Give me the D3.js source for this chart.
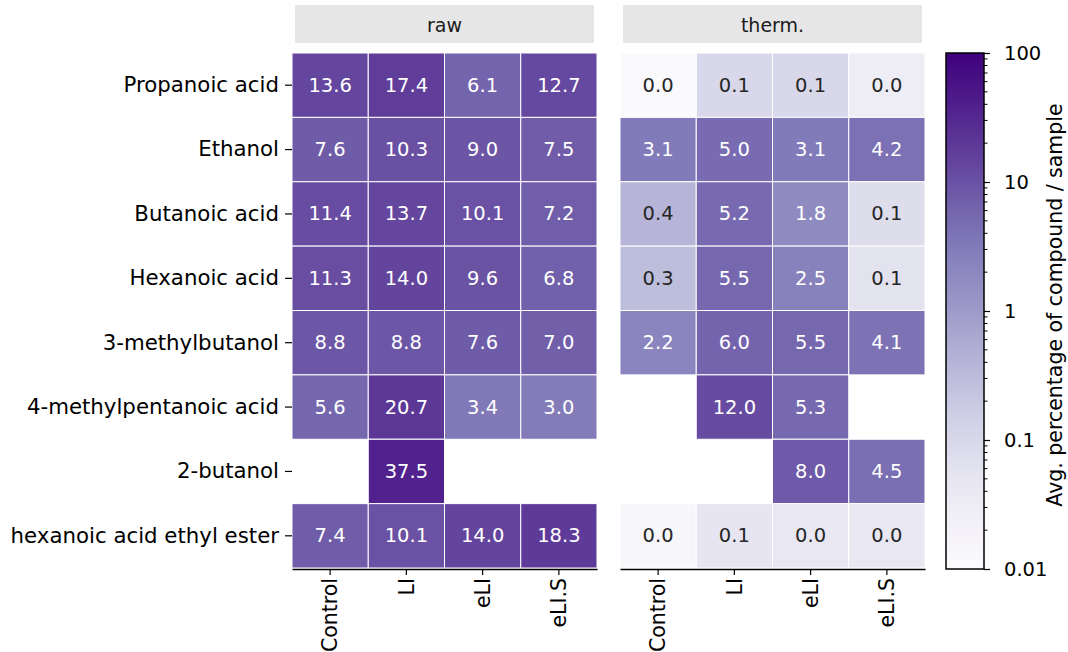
<!DOCTYPE html>
<html>
<head>
<meta charset="utf-8">
<script src="https://cdn.jsdelivr.net/npm/d3@7"></script>
<style>
  body { margin: 0; background: #fff; }
  svg { font-family: "DejaVu Sans", sans-serif; }
</style>
</head>
<body>
<svg id="chart" width="1068" height="652"></svg>
<script>
// compounds (rows) and samples (columns)
var compounds = ["Propanoic acid", "Ethanol", "Butanoic acid", "Hexanoic acid",
                 "3-methylbutanol", "4-methylpentanoic acid", "2-butanol", "hexanoic acid ethyl ester"];
var samples = ["Control", "LI", "eLI", "eLI.S"];
var panels = ["raw", "therm."];

// avg. percentage of compound / sample, null = missing
var rawValues = [
  [13.6, 17.4, 6.1, 12.7],
  [7.6, 10.3, 9.0, 7.5],
  [11.4, 13.7, 10.1, 7.2],
  [11.3, 14.0, 9.6, 6.8],
  [8.8, 8.8, 7.6, 7.0],
  [5.6, 20.7, 3.4, 3.0],
  [null, 37.5, null, null],
  [7.4, 10.1, 14.0, 18.3]
];
var thermValues = [
  [0.012, 0.1, 0.1, 0.03],
  [3.1, 5.0, 3.1, 4.2],
  [0.4, 5.2, 1.8, 0.08],
  [0.3, 5.5, 2.5, 0.06],
  [2.2, 6.0, 5.5, 4.1],
  [null, 12.0, 5.3, null],
  [null, null, 8.0, 4.5],
  [0.015, 0.052, 0.046, 0.046]
];
var cbarTicks = [100, 10, 1, 0.1, 0.01];

var svg = d3.select("#chart"),
    plotTop = 53, plotBottom = 568,
    panelX = [292, 620], panelW = 305;

var color = d3.scaleSequentialLog(d3.interpolatePurples).domain([0.01, 100]).clamp(true);
var y = d3.scaleBand().domain(compounds).range([plotTop, plotBottom]);

function textColor(c) {
  var rgb = d3.rgb(c);
  var lum = [rgb.r, rgb.g, rgb.b].map(function(v) {
    v = v / 255;
    return v <= 0.03928 ? v / 12.92 : Math.pow((v + 0.055) / 1.055, 2.4);
  });
  var l = 0.2126 * lum[0] + 0.7152 * lum[1] + 0.0722 * lum[2];
  return l > 0.408 ? "#262626" : "#ffffff";
}

[rawValues, thermValues].forEach(function(values, p) {
  var x = d3.scaleBand().domain(samples).range([panelX[p], panelX[p] + panelW]);

  // strip header
  svg.append("rect")
      .attr("x", panelX[p] + 3).attr("y", 5)
      .attr("width", panelW - 6).attr("height", 38)
      .attr("fill", "#e6e6e6");
  svg.append("text")
      .attr("x", panelX[p] + panelW / 2).attr("y", 25)
      .attr("text-anchor", "middle").attr("dominant-baseline", "central")
      .attr("font-size", 19).attr("fill", "#1a1a1a")
      .text(panels[p]);

  var cells = [];
  values.forEach(function(row, i) {
    row.forEach(function(v, j) {
      if (v !== null) cells.push({r: compounds[i], c: samples[j], v: v});
    });
  });

  var g = svg.append("g");
  g.selectAll("rect")
      .data(cells)
    .enter().append("rect")
      .attr("x", function(d) { return x(d.c); })
      .attr("y", function(d) { return y(d.r); })
      .attr("width", x.bandwidth())
      .attr("height", y.bandwidth())
      .attr("fill", function(d) { return color(d.v); })
      .attr("stroke", "#ffffff")
      .attr("stroke-width", 1);

  g.selectAll("text")
      .data(cells)
    .enter().append("text")
      .attr("x", function(d) { return x(d.c) + x.bandwidth() / 2; })
      .attr("y", function(d) { return y(d.r) + y.bandwidth() / 2; })
      .attr("text-anchor", "middle").attr("dominant-baseline", "central")
      .attr("font-size", 19.5)
      .attr("fill", function(d) { return textColor(color(d.v)); })
      .text(function(d) { return d.v.toFixed(1); });

  // bottom axis
  var ax = svg.append("g")
      .attr("transform", "translate(0," + (plotBottom + 1) + ")")
      .call(d3.axisBottom(x).tickSizeInner(6).tickSizeOuter(0).tickPadding(8));
  ax.select(".domain").attr("stroke", "#000").attr("stroke-width", 1.5);
  ax.selectAll(".tick line").attr("stroke", "#000").attr("stroke-width", 1.2);
  ax.selectAll(".tick text")
      .attr("font-size", 20.5).attr("fill", "#000")
      .attr("font-family", "DejaVu Sans, sans-serif")
      .attr("transform", "rotate(-90)")
      .attr("text-anchor", "end")
      .attr("dy", "0.35em")
      .attr("x", -9).attr("y", 0);

  // y axis on the first panel only
  if (p === 0) {
    var ay = svg.append("g")
        .attr("transform", "translate(" + panelX[0] + ",0)")
        .call(d3.axisLeft(y).tickSizeInner(7).tickSizeOuter(0).tickPadding(6));
    ay.select(".domain").remove();
    ay.selectAll(".tick line").attr("stroke", "#000").attr("stroke-width", 1.2);
    ay.selectAll(".tick text")
        .attr("font-size", 21.3).attr("fill", "#000")
        .attr("font-family", "DejaVu Sans, sans-serif");
  }
});

// colorbar
var cbX = 946, cbW = 38;
var cy = d3.scaleLog().domain([0.01, 100]).range([569, 53]);

var grad = svg.append("defs").append("linearGradient")
    .attr("id", "cbar").attr("x1", 0).attr("y1", 1).attr("x2", 0).attr("y2", 0);
d3.range(0, 1.0001, 0.05).forEach(function(t) {
  grad.append("stop")
      .attr("offset", t)
      .attr("stop-color", d3.interpolatePurples(t));
});
svg.append("rect")
    .attr("x", cbX).attr("y", 53)
    .attr("width", cbW).attr("height", 516)
    .attr("fill", "url(#cbar)")
    .attr("stroke", "#000").attr("stroke-width", 1.5);

var minor = [];
[0.01, 0.1, 1, 10].forEach(function(dec) {
  d3.range(2, 10).forEach(function(k) { minor.push(dec * k); });
});
svg.append("g").selectAll("line")
    .data(minor)
  .enter().append("line")
    .attr("x1", cbX + cbW).attr("x2", cbX + cbW + 3.5)
    .attr("y1", function(d) { return cy(d); })
    .attr("y2", function(d) { return cy(d); })
    .attr("stroke", "#000").attr("stroke-width", 1);

var ac = svg.append("g")
    .attr("transform", "translate(" + (cbX + cbW) + ",0)")
    .call(d3.axisRight(cy).tickValues(cbarTicks).tickFormat(d3.format("~g"))
      .tickSizeInner(6).tickSizeOuter(0).tickPadding(14));
ac.select(".domain").remove();
ac.selectAll(".tick line").attr("stroke", "#000").attr("stroke-width", 1.2);
ac.selectAll(".tick text")
    .attr("font-size", 19.5).attr("fill", "#000")
    .attr("font-family", "DejaVu Sans, sans-serif");

svg.append("text")
    .attr("transform", "translate(1055,305) rotate(-90)")
    .attr("text-anchor", "middle").attr("dominant-baseline", "central")
    .attr("font-size", 20.5).attr("fill", "#000")
    .text("Avg. percentage of compound / sample");
</script>
</body>
</html>
